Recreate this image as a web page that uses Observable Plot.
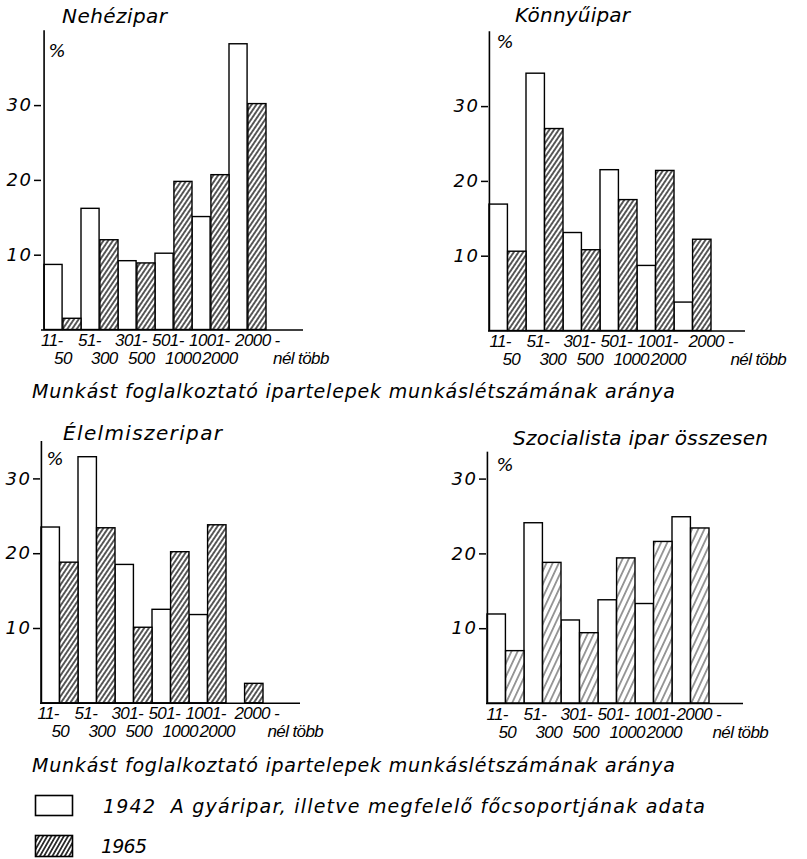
<!DOCTYPE html>
<html><head><meta charset="utf-8">
<script src="https://cdn.jsdelivr.net/npm/d3@7"></script>
<script src="https://cdn.jsdelivr.net/npm/@observablehq/plot@0.6"></script>
<style>
html,body{margin:0;padding:0;background:#fff;}
#chart{position:relative;width:807px;height:859px;overflow:hidden;background:#fff;}
#chart svg{position:absolute;overflow:visible;}
</style></head><body><div id="chart"></div>
<script>
// ---- data ----
const categories = ["11-50","51-300","301-500","501-1000","1001-2000","2000-nél több"];
const labelLine1 = ["11-","51-","301-","501-","1001-","2000 -"];
const labelLine2 = ["50","300","500","1000","2000","nél több"];
const yTicks = [10,20,30];
const panelTitles = ["Nehézipar","Könnyűipar","Élelmiszeripar","Szocialista ipar összesen"];
const nehez1942 = [8.7,16.2,9.2,10.2,15.1,38.2];
const nehez1965 = [1.5,12.0,8.9,19.8,20.7,30.2];
const konnyu1942 = [16.9,34.4,13.1,21.5,8.7,3.8];
const konnyu1965 = [10.6,27.0,10.8,17.5,21.4,12.2];
const elelmiszer1942 = [23.5,32.9,18.5,12.5,11.8,0];
const elelmiszer1965 = [18.8,23.4,10.1,20.2,23.8,2.6];
const szoc1942 = [11.9,24.1,11.1,13.8,13.3,24.9];
const szoc1965 = [7.0,18.8,9.4,19.4,21.6,23.4];
const axisCaption = "Munkást foglalkoztató ipartelepek munkáslétszámának aránya";
const legendLabels = ["1942\u00a0\u00a0A gyáripar, illetve megfelelő főcsoportjának adata","1965"];

// ---- layout ----
const ppu = 7.48;
const FONT = "'DejaVu Sans', sans-serif";
const LFONT = "'Liberation Sans', Arial, sans-serif";
const panels = [
  {a:nehez1942,b:nehez1965,hatch:"hatchDense",left:0,top:0,w:400,h:385,axisX:41,zero:329.5,yMax:40,groupEnd:268,baseEnd:303,
   l1dx:-3,l1last:6,l2dx:10,lastdx:44,tx:62,ty:23,tlen:105,px:57,py:57},
  {a:konnyu1942,b:konnyu1965,hatch:"hatchDense",left:404,top:0,w:403,h:385,axisX:488,zero:330.5,yMax:40,groupEnd:711,baseEnd:745,
   l1dx:0,l1last:14,l2dx:13,lastdx:56,tx:515,ty:22,tlen:115,px:505,py:48},
  {a:elelmiszer1942,b:elelmiszer1965,hatch:"hatchDense",left:0,top:385,w:400,h:375,axisX:40,zero:702.8,yMax:35,groupEnd:263,baseEnd:300,
   l1dx:-4,l1last:8,l2dx:10,lastdx:41,tx:63,ty:440,tlen:159,px:55,py:465},
  {a:szoc1942,b:szoc1965,hatch:"hatchSparse",left:404,top:385,w:403,h:375,axisX:486,zero:703,yMax:33.6,groupEnd:709,baseEnd:743,
   l1dx:-1,l1last:4,l2dx:11,lastdx:40,tx:513,ty:445,tlen:255,px:505,py:471}
];

const chart = d3.select("#chart");

// overlay svg with patterns, titles, captions, legend
const ov = chart.append("svg").attr("width",807).attr("height",859).style("left","0px").style("top","0px");
const defs = ov.append("defs");
function hatch(id, spacing, angle, sw, color){
  const p = defs.append("pattern").attr("id",id).attr("patternUnits","userSpaceOnUse")
    .attr("width",spacing).attr("height",spacing).attr("patternTransform",`rotate(${angle})`);
  p.append("rect").attr("width",spacing).attr("height",spacing).attr("fill","white");
  p.append("line").attr("x1",spacing/2).attr("x2",spacing/2).attr("y1",0).attr("y2",spacing)
    .attr("stroke",color).attr("stroke-width",sw);
}
hatch("hatchDense",3.9,34,1.3,"#000");
hatch("hatchSparse",5.6,25,0.9,"#222");
hatch("hatchLegend",3.6,30,1.5,"#000");

const txt = {fontFamily:LFONT,fontStyle:"italic",fontSize:17,fill:"black",textAnchor:"start",frameAnchor:"bottom"};

panels.forEach((L,k)=>{
  const bw = (L.groupEnd - L.axisX)/categories.length;
  const rows = categories.map((c,i)=>({cat:c,l1:labelLine1[i],l2:labelLine2[i],a:L.a[i],b:L.b[i],i}));
  const last = categories.length-1;
  const svg = Plot.plot({
    width:L.w, height:L.h,
    marginLeft:L.axisX-L.left, marginRight:L.left+L.w-L.baseEnd,
    marginTop:L.zero-L.yMax*ppu-L.top, marginBottom:L.top+L.h-L.zero,
    x:{type:"band",domain:categories,range:[L.axisX-L.left,L.groupEnd-L.left],padding:0,axis:null},
    y:{domain:[0,L.yMax]},
    style:{fontFamily:FONT,fontStyle:"italic",fontSize:"18px",background:"transparent",overflow:"visible"},
    marks:[
      Plot.barY(rows,{x:"cat",y:"a",filter:d=>d.a>0,insetRight:bw/2,fill:"white",stroke:"black",strokeWidth:1.4}),
      Plot.barY(rows,{x:"cat",y:"b",filter:d=>d.b>0,insetLeft:bw/2,fill:`url(#${L.hatch})`,stroke:"black",strokeWidth:1.4}),
      Plot.ruleY([0],{stroke:"black",strokeWidth:1.6}),
      Plot.ruleX([categories[0]],{dx:-bw/2,stroke:"black",strokeWidth:1.6}),
      Plot.axisY({ticks:yTicks,tickSize:7,tickPadding:2,stroke:"black",strokeWidth:1.5,label:null,fontSize:18,fill:"black"}),
      Plot.text(rows,{...txt,x:"cat",text:"l1",filter:d=>d.i<last,dy:16,dx:-bw/2+L.l1dx}),
      Plot.text(rows,{...txt,x:"cat",text:"l1",filter:d=>d.i===last,dy:16,dx:-bw/2+L.l1last}),
      Plot.text(rows,{...txt,x:"cat",text:"l2",filter:d=>d.i<last,dy:34,dx:-bw/2+L.l2dx}),
      Plot.text(rows,{...txt,x:"cat",text:"l2",filter:d=>d.i===last,dy:34,dx:-bw/2+L.lastdx})
    ]
  });
  d3.select(svg).style("left",L.left+"px").style("top",L.top+"px");
  d3.select(svg).selectAll('g[aria-label="y-axis tick label"] text').style("letter-spacing","1.5px");
  d3.select(svg).selectAll('g[aria-label="text"] text').style("letter-spacing","-0.6px");
  chart.node().insertBefore(svg, ov.node());

  ov.append("text").attr("x",L.tx).attr("y",L.ty).attr("textLength",L.tlen).attr("lengthAdjust","spacing")
    .style("font-family",FONT).style("font-style","italic").style("font-size","20px").text(panelTitles[k]);
  ov.append("text").attr("x",L.px).attr("y",L.py).attr("text-anchor","middle")
    .style("font-family",FONT).style("font-style","italic").style("font-size","18px").text("%");
});

// captions
[398,772].forEach(y=>{
  ov.append("text").attr("x",32).attr("y",y).attr("textLength",643).attr("lengthAdjust","spacing")
    .style("font-family",FONT).style("font-style","italic").style("font-size","19px").text(axisCaption);
});
// legend
ov.append("rect").attr("x",35.5).attr("y",795.5).attr("width",37).attr("height",20).attr("fill","white").attr("stroke","black").attr("stroke-width",1.6);
ov.append("rect").attr("x",35.5).attr("y",835.5).attr("width",37).attr("height",21).attr("fill","url(#hatchLegend)").attr("stroke","black").attr("stroke-width",1.6);
ov.append("text").attr("x",103).attr("y",813).attr("textLength",602).attr("lengthAdjust","spacing")
  .style("font-family",FONT).style("font-style","italic").style("font-size","19px").text(legendLabels[0]);
ov.append("text").attr("x",101).attr("y",853).attr("textLength",46).attr("lengthAdjust","spacing")
  .style("font-family",FONT).style("font-style","italic").style("font-size","19px").text(legendLabels[1]);
</script></body></html>
